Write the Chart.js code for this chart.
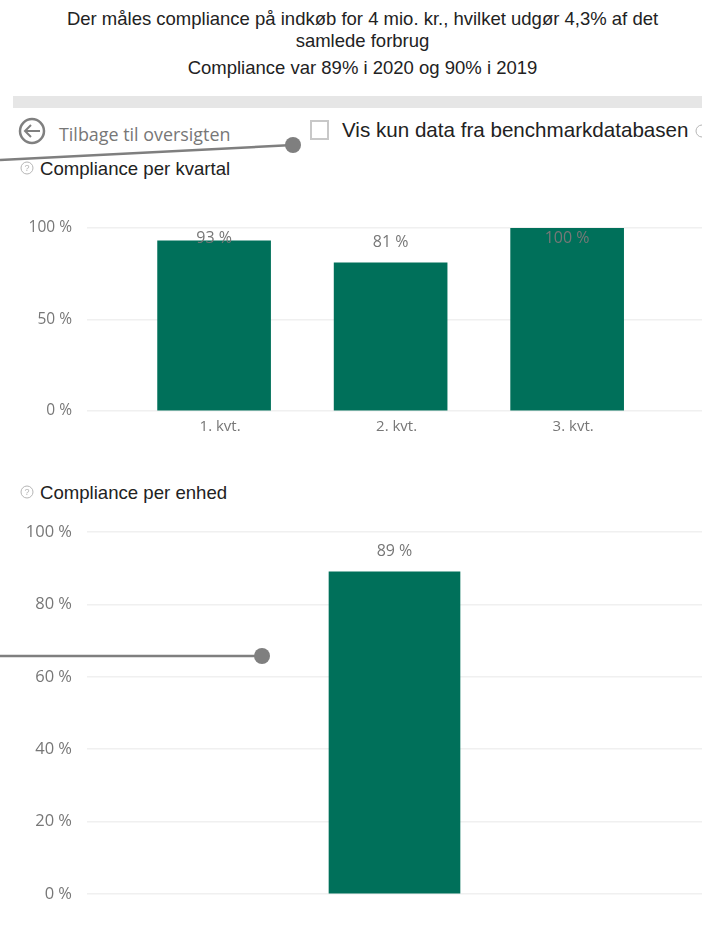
<!DOCTYPE html>
<html>
<head>
<meta charset="utf-8">
<script src="https://cdn.jsdelivr.net/npm/chart.js@4"></script>
<style>
  html, body { margin: 0; padding: 0; background: #fff; }
  #page { position: relative; width: 702px; height: 939px; overflow: hidden; font-family: "Liberation Sans", Arial, sans-serif; color: #222; }
  #page div { position: absolute; white-space: nowrap; }
  canvas { position: absolute; left: 0; }
  #overlay { position: absolute; left: 0; top: 0; z-index: 5; }
  .head { left: 0; width: 725px; text-align: center; font-size: 18.5px; }
  .sub { font-size: 18.6px; left: 40px; }
</style>
</head>
<body>
<div id="page">
  <div class="head" style="top:8px">Der måles compliance på indkøb for 4 mio. kr., hvilket udgør 4,3% af det</div>
  <div class="head" style="top:30px">samlede forbrug</div>
  <div class="head" style="top:57px">Compliance var 89% i 2020 og 90% i 2019</div>
  <div style="left:13px;top:96px;width:689px;height:12px;background:#e6e6e6"></div>
  <div style="left:59px;top:122px;font:17.9px 'Open Sans',sans-serif;color:#777">Tilbage til oversigten</div>
  <div style="left:342px;top:118px;font-size:20.6px;color:#222">Vis kun data fra benchmarkdatabasen</div>
  <div class="sub" style="top:158px">Compliance per kvartal</div>
  <div class="sub" style="top:482px">Compliance per enhed</div>
  <canvas id="kvartalChart" width="702" height="240" style="top:200px"></canvas>
  <canvas id="enhedChart" width="702" height="420" style="top:501px"></canvas>
  <svg id="overlay" width="702" height="939">
    <!-- tilbage-pil -->
    <circle cx="32" cy="131" r="12" fill="none" stroke="#808080" stroke-width="2.5"/>
    <path d="M40 131H25M31 125l-6 6 6 6" fill="none" stroke="#808080" stroke-width="2"/>
    <!-- checkbox -->
    <rect x="311" y="121" width="17" height="18" fill="#fff" stroke="#c8c8c8" stroke-width="2"/>
    <!-- spørgsmålstegn -->
    <g fill="none" stroke="#b5b5b5">
      <circle cx="27" cy="168" r="6"/>
      <circle cx="27" cy="492" r="6"/>
      <circle cx="702" cy="131" r="6"/>
    </g>
    <g fill="#b5b5b5" font-family="Liberation Sans" font-size="9" text-anchor="middle">
      <text x="27" y="171">?</text>
      <text x="27" y="495">?</text>
    </g>
    <!-- callouts -->
    <line x1="0" y1="160" x2="293" y2="145" stroke="#7f7f7f" stroke-width="2.5"/>
    <circle cx="293" cy="145" r="8" fill="#7f7f7f"/>
    <line x1="0" y1="656" x2="262" y2="656" stroke="#7f7f7f" stroke-width="2.5"/>
    <circle cx="262" cy="656" r="8" fill="#7f7f7f"/>
  </svg>
</div>
<script>
// data
var kvartaler = ['1. kvt.', '2. kvt.', '3. kvt.'];
var kvartalValues = [93, 81, 100];
var enheder = [''];
var enhedValues = [89];

var green = '#00705a';
var gridColor = '#f0f0f0';
var tickColor = '#777';

function tickFont(size) {
  return { family: "'Open Sans', sans-serif", size: size };
}

// labels over bars, pushed down when there is no room at the top
var barLabels = {
  id: 'barLabels',
  afterDatasetsDraw: function(chart) {
    var ctx = chart.ctx;
    var top = chart.chartArea.top;
    ctx.save();
    ctx.font = "16px 'Open Sans', sans-serif";
    ctx.fillStyle = tickColor;
    ctx.textAlign = 'center';
    ctx.textBaseline = 'middle';
    chart.getDatasetMeta(0).data.forEach(function(bar, i) {
      var raw = chart.data.datasets[0].data[i];
      var v = raw.y !== undefined ? raw.y : raw;
      ctx.fillText(v + ' %', bar.x, Math.max(bar.y - 20, top + 10));
    });
    ctx.restore();
  }
};

function yAxis(step, size) {
  return {
    min: 0,
    max: 100,
    afterFit: function(scale) { scale.width = 87; },
    border: { display: false },
    grid: { color: gridColor, lineWidth: 1.5, drawTicks: false },
    ticks: {
      stepSize: step,
      padding: 15,
      color: tickColor,
      font: tickFont(size),
      callback: function(v) { return v + ' %'; }
    }
  };
}

// per kvartal
new Chart(document.getElementById('kvartalChart').getContext('2d'), {
  type: 'bar',
  data: {
    datasets: [{
      data: kvartalValues.map(function(v, i) { return { x: i, y: v }; }),
      backgroundColor: green,
      barThickness: 113
    }]
  },
  options: {
    responsive: false,
    animation: false,
    layout: { padding: { top: 28, left: 0, right: 0, bottom: 0 } },
    plugins: { legend: { display: false }, tooltip: { enabled: false } },
    scales: {
      x: {
        type: 'linear',
        offset: false,
        min: -0.72,
        max: 2.764,
        afterBuildTicks: function(scale) {
          scale.ticks = kvartaler.map(function(k, i) { return { value: i }; });
        },
        afterFit: function(scale) { scale.height = 29; },
        border: { display: false },
        grid: { display: false, drawTicks: false },
        ticks: {
          padding: 7,
          labelOffset: 6,
          autoSkip: false,
          maxRotation: 0,
          color: tickColor,
          font: tickFont(15),
          callback: function(v) { return kvartaler[v]; }
        }
      },
      y: yAxis(50, 15.5)
    }
  },
  plugins: [barLabels]
});

// per enhed
new Chart(document.getElementById('enhedChart').getContext('2d'), {
  type: 'bar',
  data: {
    labels: enheder,
    datasets: [{
      data: enhedValues,
      backgroundColor: green,
      barThickness: 131
    }]
  },
  options: {
    responsive: false,
    animation: false,
    layout: { padding: { top: 31, left: 0, right: 0, bottom: 0 } },
    plugins: { legend: { display: false }, tooltip: { enabled: false } },
    scales: {
      x: {
        afterFit: function(scale) { scale.height = 27; },
        border: { display: false },
        grid: { display: false, drawTicks: false },
        ticks: { display: false }
      },
      y: yAxis(20, 16.5)
    }
  },
  plugins: [barLabels]
});
</script>
</body>
</html>
